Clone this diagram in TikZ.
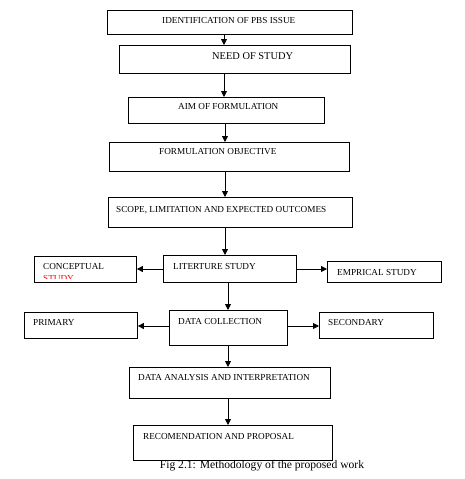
\documentclass[tikz,border=0pt]{standalone}
\usepackage{fontspec}
\setmainfont{Liberation Serif}
\usetikzlibrary{arrows.meta}
\begin{document}
\begin{tikzpicture}[x=1pt,y=-1pt,
  box/.style={draw=black,line width=0.9pt,inner sep=0pt,anchor=north west},
  lbl/.style={inner sep=0pt,anchor=west,font=\fontsize{9.2}{10}\selectfont,text height=6.1pt,text depth=0pt},
  arr/.style={line width=0.9pt,-{Triangle[length=6pt,width=6pt]}},
  figcap/.style={inner sep=0pt,font=\fontsize{11.6}{13}\selectfont}]
\useasboundingbox (0,0) rectangle (465,479);
% boxes
\node[box,minimum width=245pt,minimum height=24pt] (n1) at (107,10) {};
\node[box,minimum width=231pt,minimum height=28pt] (n2) at (119,45) {};
\node[box,minimum width=196pt,minimum height=26pt] (n3) at (128,97) {};
\node[box,minimum width=240pt,minimum height=29pt] (n4) at (109,142) {};
\node[box,minimum width=244pt,minimum height=30pt] (n5) at (108,197) {};
\node[box,minimum width=102pt,minimum height=26pt] (cs) at (34,256) {};
\node[box,minimum width=133pt,minimum height=27pt] (ls) at (163,255) {};
\node[box,minimum width=114pt,minimum height=21pt] (es) at (327,261) {};
\node[box,minimum width=113pt,minimum height=26pt] (pr) at (24,312) {};
\node[box,minimum width=118pt,minimum height=35pt] (dc) at (169,310) {};
\node[box,minimum width=114pt,minimum height=26pt] (se) at (319,312) {};
\node[box,minimum width=201pt,minimum height=31pt] (da) at (129,367) {};
\node[box,minimum width=199pt,minimum height=35pt] (rp) at (133,425) {};
% labels
\node[lbl] (t1) at (162,20) {IDENTIFICATION OF PBS ISSUE};
\node[lbl,font=\fontsize{10.4}{11}\selectfont,text height=6.9pt] (t2) at (212,56) {NEED OF STUDY};
\node[lbl] (t3) at (178,106) {AIM OF FORMULATION};
\node[lbl] (t4) at (159,151) {FORMULATION OBJECTIVE};
\node[lbl] (t5) at (116,209) {SCOPE, LIMITATION AND EXPECTED OUTCOMES};
\node[lbl] (tc) at (43,266) {CONCEPTUAL};
\begin{scope}
  \clip (35,274) rectangle (135,278.5);
  \node[lbl,text=red] (tc2) at (43,278.5) {STUDY};
\end{scope}
\node[lbl] (tl) at (173,266) {LITERTURE STUDY};
\node[lbl] (te) at (337,272) {EMPRICAL STUDY};
\node[lbl] (tp) at (33,322) {PRIMARY};
\node[lbl] (td) at (178,321) {DATA COLLECTION};
\node[lbl] (ts) at (328,322) {SECONDARY};
\node[lbl] (ta) at (138,377) {DATA ANALYSIS AND INTERPRETATION};
\node[lbl] (tr) at (143,436) {RECOMENDATION AND PROPOSAL};
\node[figcap] (fig) at (262,466) {Fig 2.1: Methodology of the proposed work};
% connectors
\draw[arr] (n1.south -| 224,0) -- (n2.north -| 224,0);
\draw[arr] (n2.south -| 224,0) -- (n3.north -| 224,0);
\draw[arr] (n3.south -| 225,0) -- (n4.north -| 225,0);
\draw[arr] (n4.south -| 225,0) -- (n5.north -| 225,0);
\draw[arr] (n5.south -| 225,0) -- (ls.north -| 225,0);
\draw[arr] (ls.west |- 0,269) -- (cs.east |- 0,269);
\draw[arr] (ls.east |- 0,269) -- (es.west |- 0,269);
\draw[arr] (ls.south -| 228,0) -- (dc.north -| 228,0);
\draw[arr] (dc.west |- 0,326) -- (pr.east |- 0,326);
\draw[arr] (dc.east |- 0,326) -- (se.west |- 0,326);
\draw[arr] (dc.south -| 228,0) -- (da.north -| 228,0);
\draw[arr] (da.south -| 228,0) -- (rp.north -| 228,0);
\end{tikzpicture}
\end{document}
